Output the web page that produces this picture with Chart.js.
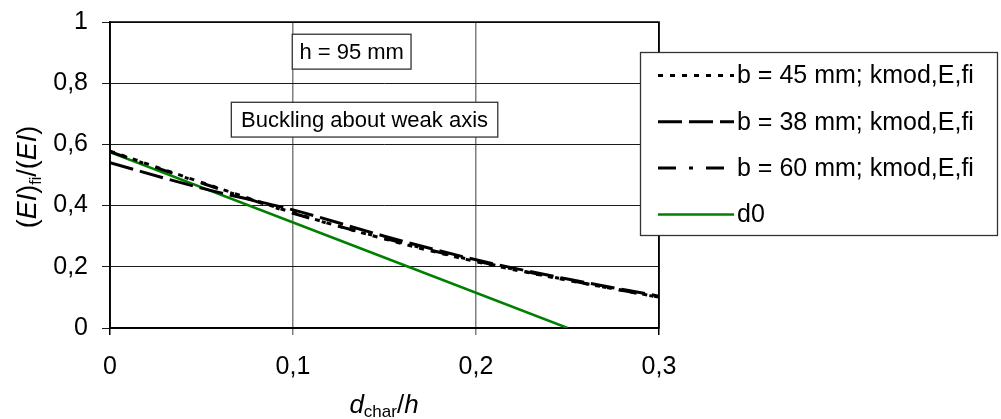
<!DOCTYPE html>
<html>
<head>
<meta charset="utf-8">
<script src="https://cdn.jsdelivr.net/npm/chart.js@4.4.0/dist/chart.umd.min.js"></script>
<style>
  html, body { margin: 0; padding: 0; background: #fff; }
  #wrap { width: 1001px; height: 419px; position: relative; }
</style>
</head>
<body>
<div id="wrap"><canvas id="c" width="1001" height="419"></canvas></div>
<script>
// ---- data ----
const xValues = [0, 0.05, 0.1, 0.15, 0.2, 0.25, 0.3];
const b45 = [0.578, 0.476, 0.377, 0.291, 0.217, 0.156, 0.101];
const b38 = [0.540, 0.457, 0.386, 0.300, 0.223, 0.160, 0.104];
const b60 = [0.576, 0.474, 0.375, 0.293, 0.219, 0.157, 0.100];
const d0X = [0, 0.25];
const d0Y = [0.575, 0];
const seriesLabels = ['b = 45 mm; kmod,E,fi', 'b = 38 mm; kmod,E,fi', 'b = 60 mm; kmod,E,fi', 'd0'];
const xTickValues = [0, 0.1, 0.2, 0.3];
const xTickLabels = ['0', '0,1', '0,2', '0,3'];
const yTickValues = [0, 0.2, 0.4, 0.6, 0.8, 1];
const yTickLabels = ['0', '0,2', '0,4', '0,6', '0,8', '1'];
const noteH = 'h = 95 mm';
const noteAxis = 'Buckling about weak axis';

const FONT = '"Liberation Sans", Arial, Helvetica, sans-serif';
const pts = (xs, ys) => xs.map((x, i) => ({ x: x, y: ys[i] }));

const datasets = [
  { label: seriesLabels[0], data: pts(xValues, b45), borderColor: '#000', borderWidth: 3, borderDash: [5, 7] },
  { label: seriesLabels[1], data: pts(xValues, b38), borderColor: '#000', borderWidth: 3, borderDash: [24, 7] },
  { label: seriesLabels[2], data: pts(xValues, b60), borderColor: '#000', borderWidth: 3, borderDash: [18, 13, 4, 13] },
  { label: seriesLabels[3], data: pts(d0X, d0Y), borderColor: '#008000', borderWidth: 2.5, borderDash: [] }
].map(d => Object.assign(d, { pointRadius: 0, fill: false, cubicInterpolationMode: 'monotone', borderCapStyle: 'butt' }));

function drawBox(ctx, x1, y1, x2, y2, text, size) {
  ctx.save();
  ctx.fillStyle = '#fff';
  ctx.fillRect(x1, y1, x2 - x1, y2 - y1);
  ctx.strokeStyle = '#333';
  ctx.lineWidth = 1.3;
  ctx.strokeRect(x1, y1, x2 - x1, y2 - y1);
  ctx.fillStyle = '#000';
  ctx.font = size + 'px ' + FONT;
  ctx.textAlign = 'center';
  ctx.textBaseline = 'middle';
  ctx.fillText(text, (x1 + x2) / 2, (y1 + y2) / 2 + 1);
  ctx.restore();
}

function drawRich(ctx, parts, cx, baseY) {
  let total = 0;
  parts.forEach(p => { ctx.font = (p[2] ? 'italic ' : '') + p[1] + 'px ' + FONT; total += ctx.measureText(p[0]).width; });
  let x = cx - total / 2;
  ctx.textAlign = 'left';
  ctx.textBaseline = 'alphabetic';
  parts.forEach(p => {
    ctx.font = (p[2] ? 'italic ' : '') + p[1] + 'px ' + FONT;
    ctx.fillText(p[0], x, baseY + p[3]);
    x += ctx.measureText(p[0]).width;
  });
}

const framePlugin = {
  id: 'frame',
  beforeDatasetsDraw(chart) {
    const { ctx, chartArea: a } = chart;
    ctx.save();
    ctx.strokeStyle = '#000';
    ctx.lineWidth = 1.5;
    ctx.strokeRect(a.left, a.top, a.right - a.left, a.bottom - a.top);
    ctx.restore();
  },
  afterDraw(chart) {
    const { ctx, scales } = chart;
    const xs = scales.x, ys = scales.y;
    drawBox(ctx, xs.getPixelForValue(0.0996), ys.getPixelForValue(0.96), xs.getPixelForValue(0.1645), ys.getPixelForValue(0.846), noteH, 22);
    drawBox(ctx, xs.getPixelForValue(0.0663), ys.getPixelForValue(0.7376), xs.getPixelForValue(0.2119), ys.getPixelForValue(0.624), noteAxis, 22);

    ctx.save();
    const L = 640, T = 52, R = 998, B = 236;
    ctx.fillStyle = '#fff';
    ctx.fillRect(L, T, R - L, B - T);
    ctx.strokeStyle = '#333';
    ctx.lineWidth = 1.3;
    ctx.strokeRect(L + 0.5, T + 0.5, R - L - 1, B - T - 1);
    chart.data.datasets.forEach((d, i) => {
      const y = 75.5 + i * 46.3;
      ctx.beginPath();
      ctx.setLineDash(d.borderDash || []);
      ctx.strokeStyle = d.borderColor;
      ctx.lineWidth = d.borderWidth;
      ctx.lineCap = 'butt';
      ctx.moveTo(658, y);
      ctx.lineTo(734, y);
      ctx.stroke();
      ctx.setLineDash([]);
      ctx.fillStyle = '#000';
      ctx.font = '25px ' + FONT;
      ctx.textAlign = 'left';
      ctx.textBaseline = 'middle';
      ctx.fillText(d.label, 737, y + 1);
    });
    ctx.restore();

    ctx.save();
    ctx.fillStyle = '#000';
    drawRich(ctx, [['d', 26, true, 0], ['char', 17, false, 4], ['/', 26, false, 0], ['h', 26, true, 0]], 384, 413);
    ctx.translate(36, 177);
    ctx.rotate(-Math.PI / 2);
    drawRich(ctx, [['(', 27, false, 0], ['EI', 27, true, 0], [')', 27, false, 0], ['fi', 16, false, 5], ['/(', 27, false, 0], ['EI', 27, true, 0], [')', 27, false, 0]], 0, 0);
    ctx.restore();
  }
};

new Chart(document.getElementById('c'), {
  type: 'line',
  data: { datasets: datasets },
  options: {
    responsive: false,
    animation: false,
    devicePixelRatio: 1,
    layout: { padding: { top: 22, right: 342, left: 0, bottom: 0 } },
    plugins: { legend: { display: false }, tooltip: { enabled: false } },
    scales: {
      x: {
        type: 'linear', min: 0, max: 0.3,
        afterBuildTicks: s => { s.ticks = xTickValues.map(v => ({ value: v })); },
        afterFit: s => { s.height = 91; s.paddingLeft = 0; s.paddingRight = 0; },
        ticks: { callback: (v, i) => xTickLabels[i], color: '#000', font: { size: 25, family: FONT }, padding: 17, maxRotation: 0, autoSkip: false },
        grid: { color: ctx => (ctx.tick && (ctx.tick.value === 0 || ctx.tick.value === 0.3)) ? '#000' : '#7f7f7f', lineWidth: 1.5, tickLength: 7 },
        border: { display: true, color: '#000', width: 1.5 }
      },
      y: {
        type: 'linear', min: 0, max: 1,
        afterBuildTicks: s => { s.ticks = yTickValues.map(v => ({ value: v })); },
        afterFit: s => { s.width = 110; s.paddingTop = 0; s.paddingBottom = 0; },
        ticks: { callback: (v, i) => yTickLabels[i], color: '#000', font: { size: 25, family: FONT }, padding: 14, autoSkip: false },
        grid: { color: '#1a1a1a', lineWidth: 1, tickLength: 8 },
        border: { display: true, color: '#000', width: 1.5 }
      }
    }
  },
  plugins: [framePlugin]
});
</script>
</body>
</html>
